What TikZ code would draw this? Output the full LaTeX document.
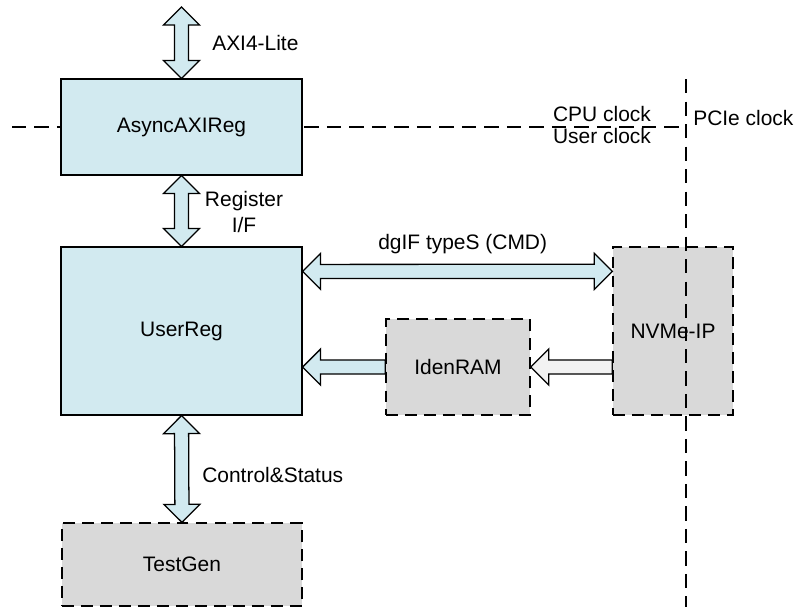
\documentclass[tikz,border=0pt]{standalone}
\usepackage{fontspec}
\setmainfont{Liberation Sans}
\usepackage{xcolor}
\usepackage{tikz}
\usetikzlibrary{calc}

\definecolor{regblue}{RGB}{210,234,240}
\definecolor{ipgray}{RGB}{217,217,217}
\definecolor{palegray}{RGB}{242,242,242}

\newcommand{\arrhead}{12.8pt}
\newcommand{\arrwing}{12.8pt}
\newcommand{\arrshaft}{5pt}

\tikzset{
  regbox/.style={draw, line width=0.8pt, fill=regblue},
  ipbox/.style={draw, line width=0.9pt, fill=ipgray, dash pattern=on 8.5pt off 5pt},
  clkline/.style={line width=0.9pt, dash pattern=on 10pt off 6pt},
  lbl/.style={inner sep=0pt, anchor=base west},
  biarrow/.style={draw, line width=0.9pt, fill=#1, to path={
    -- ($(\tikztostart)!\arrhead!(\tikztotarget)!\arrwing!90:(\tikztotarget)$)
    -- ($(\tikztostart)!\arrhead!(\tikztotarget)!\arrshaft!90:(\tikztotarget)$)
    -- ($(\tikztotarget)!\arrhead!(\tikztostart)!\arrshaft!-90:(\tikztostart)$)
    -- ($(\tikztotarget)!\arrhead!(\tikztostart)!\arrwing!-90:(\tikztostart)$)
    -- (\tikztotarget)
    -- ($(\tikztotarget)!\arrhead!(\tikztostart)!\arrwing!90:(\tikztostart)$)
    -- ($(\tikztotarget)!\arrhead!(\tikztostart)!\arrshaft!90:(\tikztostart)$)
    -- ($(\tikztostart)!\arrhead!(\tikztotarget)!\arrshaft!-90:(\tikztotarget)$)
    -- ($(\tikztostart)!\arrhead!(\tikztotarget)!\arrwing!-90:(\tikztotarget)$)
    -- cycle}},
  biarrow/.default=regblue,
  onearrow/.style={draw, line width=0.9pt, fill=#1, to path={
    -- ($(\tikztostart)!\arrshaft!90:(\tikztotarget)$)
    -- ($(\tikztotarget)!\arrhead!(\tikztostart)!\arrshaft!-90:(\tikztostart)$)
    -- ($(\tikztotarget)!\arrhead!(\tikztostart)!\arrwing!-90:(\tikztostart)$)
    -- (\tikztotarget)
    -- ($(\tikztotarget)!\arrhead!(\tikztostart)!\arrwing!90:(\tikztostart)$)
    -- ($(\tikztotarget)!\arrhead!(\tikztostart)!\arrshaft!90:(\tikztostart)$)
    -- ($(\tikztostart)!\arrshaft!-90:(\tikztotarget)$)
    -- cycle}},
  onearrow/.default=regblue
}

\begin{document}
\begin{tikzpicture}[x=0.025cm, y=-0.025cm, font=\fontsize{14.9}{18}\selectfont]
\useasboundingbox (0,0) rectangle (801,607);

% clock domain border (CPU / User)
\draw[clkline] (12,127) -- (686,127);

% blocks
\node[regbox, minimum width=6.025cm, minimum height=2.4cm] (async) at (181.5,127) {AsyncAXIReg};
\node[regbox, minimum width=6.025cm, minimum height=4.2cm] (user) at (181.5,331) {UserReg};
\node[ipbox, minimum width=6cm, minimum height=2.075cm] (testgen) at (182,564.5) {TestGen};
\node[ipbox, minimum width=3.6cm, minimum height=2.4cm] (idenram) at (458,367) {IdenRAM};
\node[ipbox, minimum width=3cm, minimum height=4.2cm] (nvme) at (673,331) {NVMe-IP};

% clock domain border (PCIe)
\draw[clkline] (686,79) -- (686,607);

% end points
\coordinate (axitop) at (181.5,7);
\coordinate (cmdL) at ([shift={(0,25)}]user.north east);
\coordinate (cmdR) at ([shift={(0,25)}]nvme.north west);

% interfaces
\draw[biarrow] (axitop) to (async.north);
\draw[biarrow] (async.south) to (user.north);
\draw[biarrow] (user.south) to (testgen.north);
\draw[biarrow] (cmdL) to (cmdR);
\draw[onearrow] (idenram.west) to (user.east |- idenram.west);
\draw[onearrow=palegray] (nvme.west |- idenram.east) to (idenram.east);

% labels
\node[lbl] (axilbl) at (212,50) {AXI4-Lite};
\node[inner sep=0pt, align=center] (reglbl) at (244,212) {Register\\I/F};
\node[lbl] (cmdlbl) at (378,249) {dgIF typeS (CMD)};
\node[lbl] (ctllbl) at (202,482) {Control\&Status};
\node[inner sep=0pt, anchor=base] (cpulbl) at (602,121) {CPU clock};
\node[inner sep=0pt, anchor=base] (userlbl) at (602,143) {User clock};
\node[lbl] (pcielbl) at (693,125) {PCIe clock};
\end{tikzpicture}
\end{document}
